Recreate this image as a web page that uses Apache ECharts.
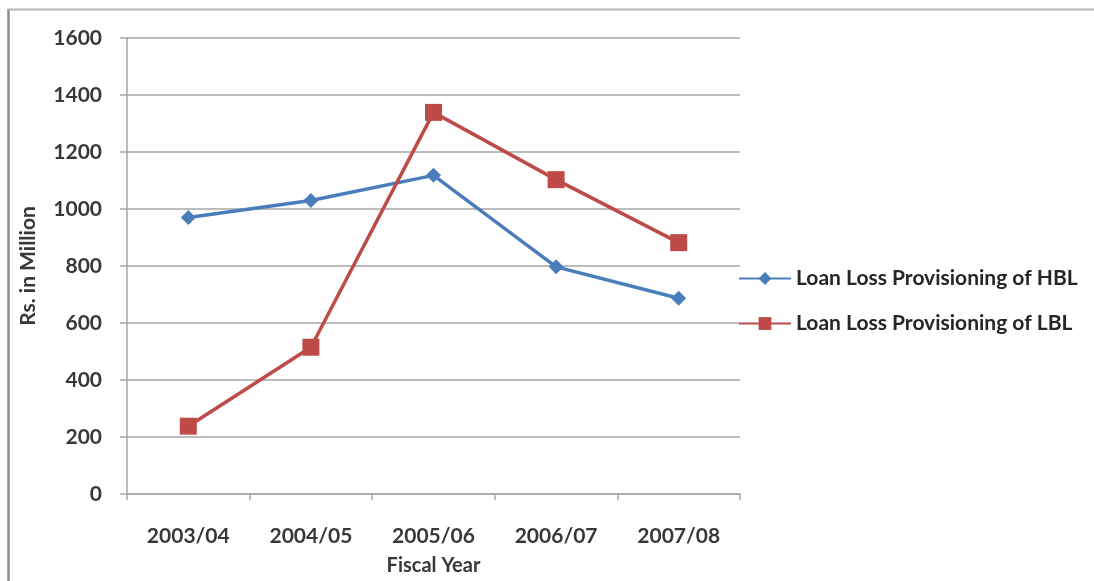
<!DOCTYPE html>
<html>
<head>
<meta charset="utf-8">
<script src="https://cdn.jsdelivr.net/npm/echarts@6/dist/echarts.min.js"></script>
<style>
  html, body { margin: 0; padding: 0; background: #ffffff; overflow: hidden; width: 100%; height: 100%; }
  #chart { width: 1094px; height: 581px; overflow: hidden; }
</style>
</head>
<body>
<div id="chart"></div>
<script>
// Fiscal years on the category axis
const fiscalYears = ['2003/04', '2004/05', '2005/06', '2006/07', '2007/08'];
// Loan loss provisioning, Rs. in Million
const hblProvisioning = [970, 1030, 1118, 797, 687];
const lblProvisioning = [238, 515, 1339, 1103, 882];
const seriesNames = ['Loan Loss Provisioning of HBL', 'Loan Loss Provisioning of LBL'];

const FONT = 'Lato, "Open Sans", sans-serif';
const TEXT_COLOR = '#383838';
const chart = echarts.init(document.getElementById('chart'), null, { renderer: 'canvas', width: 1094, height: 581 });

chart.setOption({
  backgroundColor: '#ffffff',
  animation: false,
  graphic: [
    // outer frame of the chart area
    { type: 'line', shape: { x1: 8.5, y1: 9, x2: 8.5, y2: 581 }, style: { stroke: '#8c8c8c', lineWidth: 2.5 } },
    { type: 'line', shape: { x1: 8, y1: 9.5, x2: 1094, y2: 9.5 }, style: { stroke: '#b4b4b4', lineWidth: 2 } }
  ],
  grid: { left: 127, right: 354, top: 38, bottom: 80, containLabel: false },
  legend: {
    orient: 'vertical',
    left: 733,
    top: 263,
    itemWidth: 52,
    itemHeight: 16,
    itemGap: 24,
    textStyle: { fontFamily: FONT, fontSize: 21, fontWeight: 'bold', color: '#262626' },
    data: seriesNames
  },
  xAxis: {
    type: 'category',
    data: fiscalYears,
    boundaryGap: true,
    name: 'Fiscal Year',
    nameLocation: 'middle',
    nameGap: 62,
    nameTextStyle: { fontFamily: FONT, fontSize: 20, fontWeight: 'bold', color: TEXT_COLOR },
    axisLine: { lineStyle: { color: '#a6a6a6', width: 1.5 } },
    axisTick: { show: true, length: 6, lineStyle: { color: '#a6a6a6', width: 1.5 } },
    axisLabel: { margin: 32, fontFamily: FONT, fontSize: 21, fontWeight: 'bold', color: TEXT_COLOR }
  },
  yAxis: {
    type: 'value',
    min: 0,
    max: 1600,
    interval: 200,
    name: 'Rs. in Million',
    nameLocation: 'middle',
    nameGap: 88,
    nameTextStyle: { fontFamily: FONT, fontSize: 21, fontWeight: 'bold', color: TEXT_COLOR },
    axisLine: { show: true, lineStyle: { color: '#a6a6a6', width: 1.5 } },
    axisTick: { show: true, length: 7, lineStyle: { color: '#a6a6a6', width: 1.5 } },
    splitLine: { show: true, lineStyle: { color: '#a6a6a6', width: 1.5 } },
    axisLabel: {
      margin: 25, fontFamily: FONT, fontSize: 21, fontWeight: 'bold', color: TEXT_COLOR,
      formatter: (v) => String(v)
    }
  },
  series: [
    {
      name: seriesNames[0],
      type: 'line',
      data: hblProvisioning,
      symbol: 'diamond',
      symbolSize: 15,
      color: '#4a7ebb',
      lineStyle: { width: 3.5, color: '#4a7ebb' },
      itemStyle: { color: '#4a7ebb' }
    },
    {
      name: seriesNames[1],
      type: 'line',
      data: lblProvisioning,
      symbol: 'rect',
      symbolSize: 17,
      color: '#be4b48',
      lineStyle: { width: 3.5, color: '#be4b48' },
      itemStyle: { color: '#be4b48' }
    }
  ]
});
</script>
</body>
</html>
